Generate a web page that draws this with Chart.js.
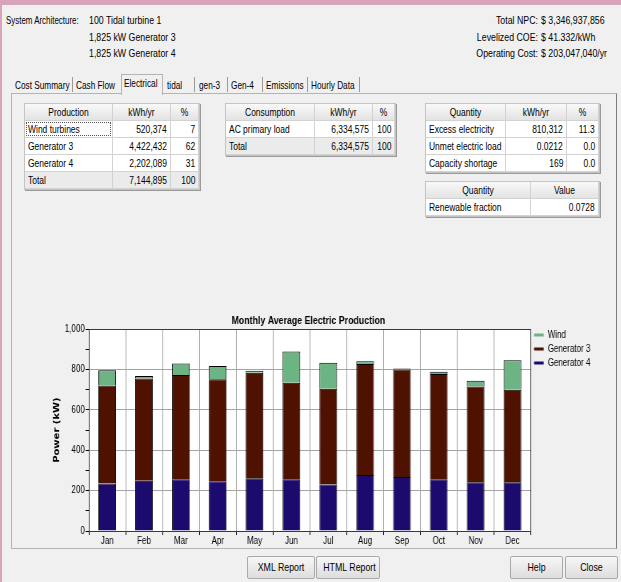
<!DOCTYPE html>
<html>
<head>
<meta charset="utf-8">
<script src="https://cdn.jsdelivr.net/npm/chart.js@4.4.0/dist/chart.umd.min.js"></script>
<style>
body{margin:0;width:621px;height:582px;background:#f0f0f0;position:relative;overflow:hidden;
  font:11px "Liberation Sans",Arial,sans-serif;color:#000}
.t{position:absolute;white-space:nowrap;line-height:14px;transform:scaleX(.8);transform-origin:0 50%}
.t.r{text-align:right;transform-origin:100% 50%}
.t.c{text-align:center;transform-origin:50% 50%}
.t.tab{transform:scaleX(.75)}
#frameTop{position:absolute;left:0;top:0;width:621px;height:5px;background:#d9a3bb}
#frameLeft{position:absolute;left:0;top:0;width:2px;height:582px;background:#d9a3bb}
#panel{position:absolute;left:11px;top:93px;width:604px;height:454px;border:1px solid #b4b4b4;border-right-color:#7d7d7d}
.sep{position:absolute;top:77px;width:1px;height:15px;background:#9a9a9a}
#selTab{position:absolute;left:121px;top:74px;width:40px;height:20px;border:1px solid #b4b4b4;border-bottom:none;background:#f0f0f0}
.tbl{position:absolute;border:1px solid #c4c4c4;box-shadow:1px 1px 0 #9a9a9a;background:#fff}
.cell{position:absolute;box-sizing:border-box;border-right:1px solid #d2d2d2;border-bottom:1px solid #d2d2d2;background:#fff}
.cell.h{background:linear-gradient(#f9f9f9,#e3e3e3)}
.cell.tot{background:#ebebeb}
.cell.focus::after{content:"";position:absolute;left:1px;top:1px;right:1px;bottom:1px;border:1px dotted #555}
.cell .t{top:1px;transform:scaleX(.77)}
.btn{position:absolute;top:556px;height:21px;border:1px solid #a9a9a9;border-radius:2px;
  background:linear-gradient(#f7f7f7,#dddddd)}
.btn .t{left:0;width:100%;top:3px}
#chartBox{position:absolute;left:0;top:305px;transform:scaleX(.8);transform-origin:0 0}
</style>
</head>
<body>
<div id="frameTop"></div><div id="frameLeft"></div>

<div class="t" style="left:6px;top:13px;transform:scaleX(.72)">System Architecture:</div>
<div class="t" style="left:89px;top:13px">100 Tidal turbine 1</div>
<div class="t" style="left:89px;top:30px">1,825 kW Generator 3</div>
<div class="t" style="left:89px;top:46px">1,825 kW Generator 4</div>

<div class="t r" style="left:418px;width:120px;top:13px">Total NPC:</div>
<div class="t" style="left:541px;top:13px">$ 3,346,937,856</div>
<div class="t r" style="left:418px;width:120px;top:30px">Levelized COE:</div>
<div class="t" style="left:541px;top:30px">$ 41.332/kWh</div>
<div class="t r" style="left:418px;width:120px;top:46px">Operating Cost:</div>
<div class="t" style="left:541px;top:46px">$ 203,047,040/yr</div>

<div id="panel"></div>
<div id="selTab"></div>
<div class="t tab" style="left:15px;top:78px">Cost Summary</div><div class="sep" style="left:72px"></div>
<div class="t tab" style="left:76px;top:78px">Cash Flow</div>
<div class="t tab" style="left:124px;top:76px">Electrical</div>
<div class="t tab" style="left:167px;top:78px">tidal</div><div class="sep" style="left:194px"></div>
<div class="t tab" style="left:199px;top:78px">gen-3</div><div class="sep" style="left:227px"></div>
<div class="t tab" style="left:231px;top:78px">Gen-4</div><div class="sep" style="left:262px"></div>
<div class="t tab" style="left:266px;top:78px">Emissions</div><div class="sep" style="left:307px"></div>
<div class="t tab" style="left:311px;top:78px">Hourly Data</div><div class="sep" style="left:359px"></div>

<div id="tables"></div>

<div id="chartBox"><canvas id="graph" width="771" height="245"></canvas></div>

<div class="btn" style="left:247px;width:66px"><div class="t c">XML Report</div></div>
<div class="btn" style="left:316px;width:62px"><div class="t c">HTML Report</div></div>
<div class="btn" style="left:510px;width:51px"><div class="t c">Help</div></div>
<div class="btn" style="left:565px;width:51px"><div class="t c">Close</div></div>

<script>
/* Monthly average electric production (kW) */
var months = ["Jan", "Feb", "Mar", "Apr", "May", "Jun", "Jul", "Aug", "Sep", "Oct", "Nov", "Dec"];
var generator4 = [236, 249, 256, 246, 261, 256, 231, 277, 268, 256, 241, 241];
var generator3 = [485, 507, 517, 506, 523, 479, 474, 551, 532, 522, 475, 459];
var wind = [76, 12, 57, 66, 10, 155, 129, 13, 5, 11, 28, 146];

/* summary tables of the Electrical tab */
var tables = [
    { left: 24, top: 103, cols: [88, 58, 28],
      rows: [["Production", "kWh/yr", "%"],
             ["Wind turbines", "520,374", "7"],
             ["Generator 3", "4,422,432", "62"],
             ["Generator 4", "2,202,089", "31"],
             ["Total", "7,144,895", "100"]], total: true },
    { left: 225, top: 103, cols: [89, 58, 22],
      rows: [["Consumption", "kWh/yr", "%"],
             ["AC primary load", "6,334,575", "100"],
             ["Total", "6,334,575", "100"]], total: true },
    { left: 425, top: 103, cols: [80, 61, 32],
      rows: [["Quantity", "kWh/yr", "%"],
             ["Excess electricity", "810,312", "11.3"],
             ["Unmet electric load", "0.0212", "0.0"],
             ["Capacity shortage", "169", "0.0"]], total: false },
    { left: 425, top: 181, cols: [105, 68],
      rows: [["Quantity", "Value"],
             ["Renewable fraction", "0.0728"]], total: false },
];

var rowH = 17;
var holder = document.getElementById("tables");
tables.forEach(function (tb, ti) {
    var box = document.createElement("div");
    var w = tb.cols.reduce(function (a, b) { return a + b; }, 0);
    box.className = "tbl";
    box.style.cssText = "left:" + tb.left + "px;top:" + tb.top + "px;width:" + w + "px;height:" + (rowH * tb.rows.length) + "px";
    tb.rows.forEach(function (row, ri) {
        var x = 0;
        row.forEach(function (txt, ci) {
            var cell = document.createElement("div");
            cell.className = "cell" + (ri === 0 ? " h" : "") + (tb.total && ri === tb.rows.length - 1 ? " tot" : "");
            if (ti === 0 && ri === 1 && ci === 0) cell.className += " focus";
            cell.style.cssText = "left:" + x + "px;top:" + (ri * rowH) + "px;width:" + tb.cols[ci] + "px;height:" + rowH + "px";
            var t = document.createElement("div");
            if (ri === 0) { t.className = "t c"; t.style.cssText = "left:0;width:100%"; }
            else if (ci === 0) { t.className = "t"; t.style.left = "3px"; }
            else { t.className = "t r"; t.style.right = "3px"; }
            t.textContent = txt;
            cell.appendChild(t);
            box.appendChild(cell);
            x += tb.cols[ci];
        });
    });
    holder.appendChild(box);
});

Chart.defaults.font.family = '"Liberation Sans", Arial, sans-serif';
Chart.defaults.color = '#000';

// white plot area with a dark frame, like the HOMER graph
var plotFrame = {
    id: 'plotFrame',
    beforeDraw: function (chart) {
        var a = chart.chartArea, ctx = chart.ctx;
        ctx.save();
        ctx.fillStyle = '#fff';
        ctx.fillRect(a.left, a.top, a.right - a.left, a.bottom - a.top);
        ctx.restore();
    },
    afterDraw: function (chart) {
        var a = chart.chartArea, ctx = chart.ctx;
        ctx.save();
        ctx.strokeStyle = '#3a3a3a';
        ctx.lineWidth = 1;
        ctx.strokeRect(Math.round(a.left) + 0.5, Math.round(a.top) + 0.5,
            Math.round(a.right - a.left) - 1, Math.round(a.bottom - a.top));
        ctx.restore();
    }
};

var graph = document.getElementById("graph").getContext("2d");

var myChart = new Chart(graph, {
    type: "bar",
    data: {
        labels: months,
        datasets: [{
            label: "Generator 4",
            data: generator4,
            backgroundColor: '#1c0a6e',
        }, {
            label: "Generator 3",
            data: generator3,
            backgroundColor: '#4f1100',
        }, {
            label: "Wind",
            data: wind,
            backgroundColor: '#6cb483',
        }],
    },
    plugins: [plotFrame],
    options: {
        responsive: false,
        animation: false,
        devicePixelRatio: 1,
        datasets: {
            bar: {
                borderColor: '#000',
                borderWidth: 1,
                categoryPercentage: 1,
                barPercentage: 0.48,
            },
        },
        layout: {
            padding: { left: 23, right: 23, top: 0, bottom: 3 },
        },
        scales: {
            x: {
                stacked: true,
                grid: { color: '#a4a4a4', tickColor: '#000', tickLength: 4 },
                border: { color: '#000' },
                ticks: { font: { size: 10 }, padding: 0 },
            },
            y: {
                stacked: true,
                min: 0,
                max: 1000,
                afterFit: function (scale) { scale.width = 88; },
                ticks: {
                    stepSize: 100,
                    font: { size: 10 },
                    padding: 1,
                    callback: function (v) { return v % 200 === 0 ? v.toLocaleString('en-US') : ''; },
                },
                grid: {
                    color: function (c) { return c.tick && c.tick.value % 200 === 0 ? '#a4a4a4' : 'rgba(0,0,0,0)'; },
                    tickColor: '#000',
                    tickLength: 4,
                },
                border: { color: '#000' },
                title: {
                    display: true,
                    text: 'Power (kW)',
                    font: { family: '"DejaVu Sans", sans-serif', size: 10, weight: 'bold' },
                    padding: { top: 42, bottom: 0 },
                },
            },
        },
        plugins: {
            title: {
                display: true,
                text: 'Monthly Average Electric Production',
                font: { size: 11, weight: 'bold' },
                padding: { top: 9, bottom: 2 },
            },
            legend: {
                position: 'right',
                align: 'start',
                reverse: true,
                title: { display: true, text: ' ', font: { size: 10 }, padding: { top: 9, bottom: 0 } },
                labels: {
                    boxWidth: 12,
                    boxHeight: 3,
                    padding: 4,
                    font: { size: 10 },
                    generateLabels: function (chart) {
                        return Chart.defaults.plugins.legend.labels.generateLabels(chart).map(function (l) {
                            l.strokeStyle = l.fillStyle;
                            l.lineWidth = 0;
                            return l;
                        });
                    },
                },
            },
            tooltip: { enabled: false },
        },
    },
});
</script>
</body>
</html>
